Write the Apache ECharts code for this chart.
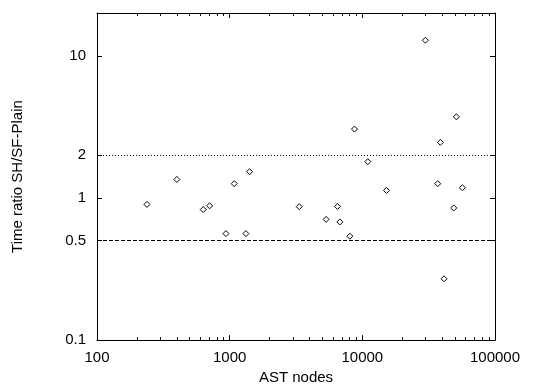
<!DOCTYPE html>
<html>
<head>
<meta charset="utf-8">
<script src="https://cdn.jsdelivr.net/npm/echarts@6/dist/echarts.min.js"></script>
<style>html,body{margin:0;padding:0;background:#fff}#c{width:560px;height:390px}</style>
</head>
<body>
<div id="c"></div>
<script>
var astNodes = [238, 400, 632, 706, 937, 1082, 1325, 1412, 3342, 5337, 6500, 6767, 8046, 8727, 10990, 15200, 29890, 37030, 38770, 41310, 48870, 51170, 56770];
var timeRatio = [0.90, 1.35, 0.828, 0.881, 0.561, 1.26, 0.561, 1.53, 0.868, 0.707, 0.872, 0.678, 0.538, 3.05, 1.80, 1.129, 12.87, 1.26, 2.46, 0.270, 0.850, 3.72, 1.18];
var xMajorTicks = [100, 1000, 10000, 100000];
var xMinorTicks = [200,300,400,500,600,700,800,900,2000,3000,4000,5000,6000,7000,8000,9000,20000,30000,40000,50000,60000,70000,80000,90000];
var yTicks = [0.1, 0.5, 1, 2, 10];
var refLines = [2, 0.5];

var FONT = 'Liberation Sans';
var black = '#000';
function fmt(v){ return String(+Number(v).toPrecision(6)); }
var pts = astNodes.map(function(x,i){ return [x, timeRatio[i]]; });

function xAxisDef(pos, ticks, len, showLine, showLabel, extra){
  var a = {
    type: 'log', logBase: 10, min: 100, max: 100000, position: pos,
    axisLine: {show: showLine, onZero: false, lineStyle: {color: black, width: 1}},
    axisTick: {show: true, inside: true, length: len, customValues: ticks, lineStyle: {color: black}},
    axisLabel: showLabel ? {show: true, customValues: ticks, formatter: fmt, color: black, fontFamily: FONT, fontSize: 15, margin: 10} : {show: false},
    splitLine: {show: false}, minorTick: {show: false}
  };
  for (var k in extra) a[k] = extra[k];
  return a;
}
function yAxisDef(pos, showLabel, extra){
  var a = {
    type: 'log', logBase: 10, min: 0.1, max: 20, position: pos,
    axisLine: {show: true, onZero: false, lineStyle: {color: black, width: 1}},
    axisTick: {show: true, inside: true, length: 5, customValues: yTicks, lineStyle: {color: black}},
    axisLabel: showLabel ? {show: true, customValues: yTicks, formatter: fmt, color: black, fontFamily: FONT, fontSize: 15, margin: 11} : {show: false},
    splitLine: {show: false}
  };
  for (var k in extra) a[k] = extra[k];
  return a;
}

var chart = echarts.init(document.getElementById('c'), null, {renderer: 'canvas'});
chart.setOption({
  animation: false,
  backgroundColor: '#fff',
  grid: {left: 97, right: 65, top: 13, bottom: 41, containLabel: false},
  xAxis: [
    xAxisDef('bottom', xMajorTicks, 5, true, true, {name: 'AST nodes', nameLocation: 'middle', nameGap: 26, nameTextStyle: {color: black, fontFamily: FONT, fontSize: 15}}),
    xAxisDef('bottom', xMinorTicks, 3, false, false, {}),
    xAxisDef('top', xMajorTicks, 5, true, false, {}),
    xAxisDef('top', xMinorTicks, 3, false, false, {})
  ],
  yAxis: [
    yAxisDef('left', true, {name: 'Time ratio SH/SF-Plain', nameLocation: 'middle', nameGap: 72, nameTextStyle: {color: black, fontFamily: FONT, fontSize: 15}}),
    yAxisDef('right', false, {})
  ],
  series: [{
    type: 'scatter', xAxisIndex: 0, yAxisIndex: 0,
    data: pts,
    symbol: 'diamond', symbolSize: 6,
    itemStyle: {color: '#fff', borderColor: black, borderWidth: 1, opacity: 1},
    markLine: {
      silent: true, symbol: 'none', label: {show: false},
      data: [
        {yAxis: refLines[0], lineStyle: {type: [1, 2], color: black, width: 1}},
        {yAxis: refLines[1], lineStyle: {type: [4, 2], color: black, width: 1}}
      ]
    }
  }]
});
</script>
</body>
</html>
